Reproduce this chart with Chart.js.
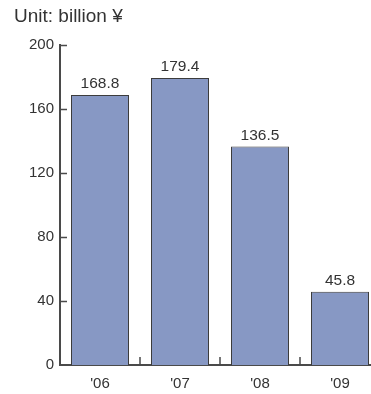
<!DOCTYPE html>
<html lang="en">

<head>
    <meta charset="UTF-8">
    <title>Unit: billion ¥</title>
    <style>
        body { margin: 0; overflow: hidden; background: #fff; }
        #unit {
            position: absolute; left: 14px; top: 5px;
            font: 19px "Liberation Sans", Arial, sans-serif; color: #333;
        }
    </style>
</head>

<body>
    <div id="unit">Unit: billion ¥</div>
    <div style="width: 390px; height: 394px;">
        <canvas id="myChart"></canvas>
    </div>

    <script src="https://cdn.jsdelivr.net/npm/chart.js"></script>
    <script>
        const v_labels = ["'06", "'07", "'08", "'09"];
        const v_data = [168.8, 179.4, 136.5, 45.8];
        const v_yTicks = [0, 40, 80, 120, 160, 200];

        const v_axisColor = '#4a4a4a';
        const v_font = "'Liberation Sans', Arial, sans-serif";

        // small tick marks pointing into the plot, plus values above bars
        const v_marks = {
            id: 'marks',
            afterDatasetsDraw(chart) {
                const c = chart.ctx;
                const x = chart.scales.x, y = chart.scales.y;
                c.save();
                c.strokeStyle = v_axisColor;
                c.lineWidth = 1.5;
                c.beginPath();
                v_yTicks.forEach(t => {
                    if (t === 0) return;
                    const py = Math.round(y.getPixelForValue(t)) + 0.5;
                    c.moveTo(y.right, py);
                    c.lineTo(y.right + 7, py);
                });
                for (let i = 1; i < v_labels.length; i++) {
                    const px = Math.round((x.getPixelForValue(i - 1) + x.getPixelForValue(i)) / 2);
                    c.moveTo(px, x.top);
                    c.lineTo(px, x.top - 8);
                }
                c.stroke();

                c.fillStyle = '#333';
                c.font = '15.5px ' + v_font;
                c.textAlign = 'center';
                c.textBaseline = 'alphabetic';
                chart.getDatasetMeta(0).data.forEach((bar, i) => {
                    c.fillText(v_data[i].toFixed(1), bar.x, bar.y - 7);
                });
                c.restore();
            }
        };

        new Chart(document.getElementById('myChart'), {
            type: 'bar',
            data: {
                labels: v_labels,
                datasets: [{
                    data: v_data,
                    backgroundColor: '#8798c4',
                    borderColor: '#3c3c3c',
                    borderWidth: 1,
                    borderSkipped: 'bottom',
                    categoryPercentage: 1,
                    barPercentage: 0.725
                }]
            },
            options: {
                responsive: true,
                maintainAspectRatio: false,
                animation: false,
                layout: { padding: { top: 45, right: 10, left: 0, bottom: 0 } },
                plugins: {
                    legend: { display: false },
                    tooltip: { enabled: false }
                },
                scales: {
                    x: {
                        grid: { display: false, drawTicks: false },
                        border: { display: true, color: v_axisColor, width: 2 },
                        ticks: { color: '#333', padding: 10, font: { size: 15, family: v_font } },
                        afterFit(s) { s.height = 29; }
                    },
                    y: {
                        min: 0,
                        max: 200,
                        afterBuildTicks(s) { s.ticks = v_yTicks.map(v => ({ value: v })); },
                        grid: { display: false, drawTicks: false },
                        border: { display: true, color: v_axisColor, width: 2 },
                        ticks: { color: '#333', padding: 6, font: { size: 15, family: v_font } },
                        afterFit(s) { s.width = 60; }
                    }
                }
            },
            plugins: [v_marks]
        });
    </script>
</body>

</html>
